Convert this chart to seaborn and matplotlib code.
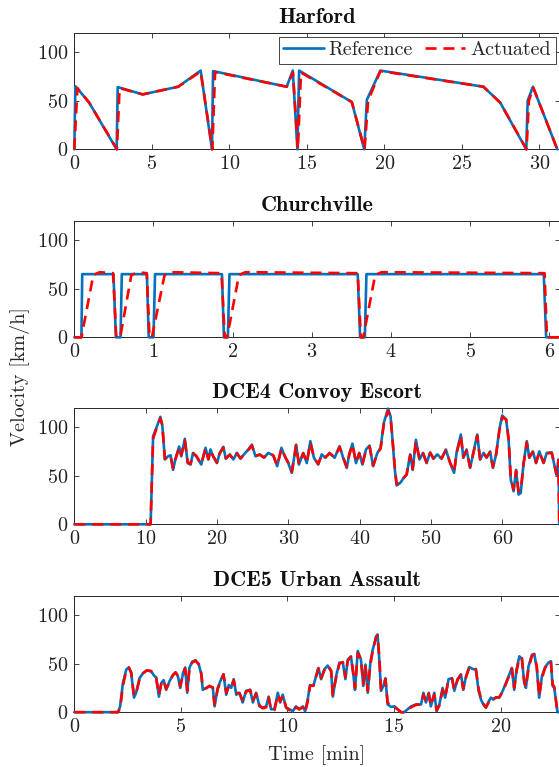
import matplotlib
matplotlib.use("Agg")
import matplotlib.pyplot as plt
from matplotlib.ticker import MultipleLocator
import seaborn as sns

# ---------------- drive-cycle velocity data (time in min, velocity in km/h) ----------------
titles = ["Harford", "Churchville", "DCE4 Convoy Escort", "DCE5 Urban Assault"]
series_labels = ["Reference", "Actuated"]

harford_t_ref = [0, 0.07, 0.96, 2.73, 2.8, 4.41, 6.7, 8.15, 8.88, 8.95, 13.7, 14.09,
                 14.39, 14.5, 17.9, 18.7, 18.87, 19.74, 26.39, 27.47, 29.15, 29.24,
                 29.58, 31.15]
harford_v_ref = [0, 65, 48, 0, 64, 56.5, 64.4, 81, 0, 80.5, 64.4, 81,
                 0, 81, 48.6, 0, 51, 81, 64.4, 48, 0, 50,
                 64.4, 0]
harford_t_act = [0, 0.2, 0.96, 2.75, 2.92, 4.41, 6.7, 8.15, 8.9, 9.08, 13.7, 14.1,
                 14.42, 14.62, 17.9, 18.72, 18.95, 19.74, 26.39, 27.47, 29.17, 29.32,
                 29.6, 31.15]
harford_v_act = [0, 63, 48, 0, 63, 56.5, 64.4, 80, 0, 79.5, 64.4, 79,
                 0, 79, 48.6, 0, 50, 80.5, 64.4, 48, 0, 50,
                 63.5, 0]

church_t_ref = [0, 0.09, 0.1, 0.494, 0.526, 0.584, 0.6, 0.917, 0.94, 1.0, 1.02,
                1.865, 1.89, 1.94, 1.96, 3.58, 3.61, 3.67, 3.69, 5.93, 5.96, 6.13]
church_v_ref = [0, 0, 65, 65, 0, 0, 65, 65, 0, 0, 65,
                65, 0, 0, 65, 65, 0, 0, 65, 65, 0, 0]
church_t_act = [0, 0.09, 0.24, 0.32, 0.49, 0.53, 0.58, 0.72, 0.8, 0.915, 0.95,
                0.98, 1.14, 1.22, 1.86, 1.9, 1.93, 2.08, 2.16, 3.58, 3.62,
                3.65, 3.8, 3.88, 5.94, 5.97, 6.13]
church_v_act = [0, 0, 64, 67, 66, 0, 0, 64, 67, 66, 0,
                0, 64, 67, 66, 0, 0, 64, 67, 66, 0,
                0, 64, 67, 66, 0, 0]

convoy_t = [0, 10.7, 11.05, 11.5, 12.07, 12.35, 12.7, 13.15, 13.5, 13.85,
            14.2, 14.7, 15.0, 15.5, 15.9, 16.3, 16.65, 17.1, 17.8, 18.4,
            18.8, 19.1, 19.45, 20.0, 20.4, 20.9, 21.25, 21.8, 22.3, 22.8,
            23.3, 23.8, 24.4, 24.9, 25.4, 26.0, 26.6, 27.2, 27.9, 28.45,
            29.05, 29.6, 30.0, 30.5, 31.1, 31.5, 32.1, 32.6, 33.1, 33.6,
            34.2, 34.7, 35.2, 35.8, 36.5, 37.2, 37.7, 38.2, 38.55, 39.0,
            39.5, 39.95, 40.4, 40.9, 41.4, 41.9, 42.5, 42.95, 43.4, 44.0,
            44.35, 44.65, 44.95, 45.2, 45.7, 46.2, 46.6, 47.1, 47.45, 47.9,
            48.4, 48.9, 49.4, 49.9, 50.35, 50.9, 51.5, 52.1, 52.7, 53.25,
            53.6, 54.2, 54.55, 55.0, 55.5, 55.95, 56.5, 56.9, 57.4, 57.8,
            58.3, 58.7, 59.15, 59.6, 60.0, 60.55, 60.9, 61.2, 61.6, 61.95,
            62.3, 62.6, 63.0, 63.45, 63.8, 64.3, 64.75, 65.2, 65.8, 66.25,
            66.95, 67.6, 67.9, 68.0]
convoy_v_ref = [0, 0, 90.7, 99, 110.6, 101, 66.7, 70, 71, 56,
                68, 80, 70, 88, 63, 61.5, 73.5, 70, 61.5, 78.7,
                66.7, 77, 70, 63, 73.5, 79.7, 67.4, 72, 66.7, 73.5,
                67.4, 72, 77, 82, 70, 72, 68.4, 73.5, 70.8, 59.8,
                78.7, 68.4, 63, 53, 82, 61.5, 73.5, 63, 85.6, 68.4,
                61.5, 72, 68.4, 73.5, 68.4, 80.4, 68.4, 58, 72, 83,
                63, 73.5, 61.5, 77, 81, 59.8, 73.5, 78.7, 104.5, 119,
                111, 84, 56, 40, 42.6, 47.8, 51, 72, 56, 87,
                66.7, 73.5, 63, 74, 67.4, 72, 67.4, 77, 63, 53,
                73.5, 92.4, 68.4, 77, 58, 73.5, 92.4, 66.7, 73.5, 68.4,
                75, 58, 72, 97.6, 112, 108, 87, 46, 34, 56,
                30.6, 32.3, 63, 85.6, 68.4, 75, 63, 75, 63, 73.5,
                74, 51, 66.7, 0]
convoy_v_act = [0, 0, 88, 98, 109, 102, 67.5, 70.5, 70, 58,
                67, 79, 71, 86, 64, 62, 73, 70.5, 62, 78,
                67, 76, 70.5, 63.5, 73, 79, 68, 71.5, 67, 73,
                68, 71.5, 76.5, 81, 70.5, 71.5, 69, 73, 71, 60.5,
                78, 69, 63.5, 54, 81, 62, 73, 63.5, 84, 69,
                62, 71.5, 69, 73, 69, 79.5, 69, 59, 71.5, 82,
                63.5, 73, 62, 76.5, 80, 60.5, 73, 78, 103, 117,
                110, 85, 58, 41.5, 43, 48, 51.5, 71, 57, 85,
                67, 73, 63.5, 73.5, 68, 71.5, 68, 76, 63.5, 54,
                73, 91, 69, 76, 59, 73, 91, 67, 73, 69,
                74, 59, 72, 96, 110, 108, 88, 48, 36, 55,
                34, 35, 62, 84, 69, 74.5, 63.5, 74.5, 63.5, 73,
                73.5, 52, 66, 0]

urban_t = [0, 2.05, 2.15, 2.28, 2.44, 2.56, 2.67, 2.8, 2.9, 3.06,
           3.22, 3.4, 3.6, 3.77, 3.84, 3.97, 4.08, 4.19, 4.31, 4.47,
           4.62, 4.75, 4.86, 4.97, 5.1, 5.2, 5.3, 5.4, 5.53, 5.69,
           5.84, 5.95, 6.03, 6.19, 6.34, 6.5, 6.58, 6.73, 6.89, 7.0,
           7.13, 7.25, 7.36, 7.48, 7.6, 7.75, 7.9, 8.06, 8.25, 8.38,
           8.53, 8.69, 8.84, 9.0, 9.12, 9.23, 9.39, 9.55, 9.66, 9.78,
           9.94, 10.1, 10.25, 10.4, 10.56, 10.72, 10.83, 10.95, 11.06, 11.22,
           11.34, 11.45, 11.58, 11.73, 11.89, 12.05, 12.13, 12.28, 12.44, 12.6,
           12.72, 12.83, 12.98, 13.1, 13.17, 13.3, 13.45, 13.56, 13.66, 13.77,
           13.89, 14.0, 14.16, 14.23, 14.31, 14.39, 14.5, 14.6, 14.7, 14.86,
           15.02, 15.17, 15.33, 15.48, 15.64, 15.8, 16.03, 16.27, 16.38, 16.5,
           16.63, 16.73, 16.89, 17.0, 17.13, 17.28, 17.4, 17.56, 17.72, 17.83,
           17.98, 18.14, 18.25, 18.38, 18.53, 18.69, 18.84, 18.97, 19.08, 19.19,
           19.31, 19.44, 19.55, 19.66, 19.78, 19.94, 20.1, 20.25, 20.41, 20.53,
           20.64, 20.75, 20.88, 21.0, 21.11, 21.19, 21.31, 21.47, 21.58, 21.7,
           21.81, 21.94, 22.09, 22.25, 22.36, 22.44, 22.52, 22.67, 22.77]
urban_v_ref = [0, 0, 6, 30, 44, 46, 40, 15, 20, 35,
               40, 43, 42, 37, 36, 16, 30, 33, 23, 32,
               38, 41, 37, 25, 40, 46, 20, 45.5, 52, 53.5,
               49, 40, 23, 25, 27, 25, 6, 25, 34, 39,
               18, 28, 25, 34, 18, 20, 10, 22, 23, 10,
               20, 6, 4.5, 6, 16, 3, 3, 20, 10, 18,
               4.5, 3, 1, 6, 3, 6, 1, 13, 28, 27,
               37, 45.5, 34, 44, 48, 42, 16, 37, 51, 51,
               34, 54, 57.5, 37, 23, 63, 54, 27, 49, 20,
               51, 64, 78, 80, 54, 22, 27, 35, 8, 5.5,
               6, 3, 0, 0, 3, 6, 8, 8, 20, 10,
               20, 6, 20, 1, 8, 25, 15, 34, 35, 22,
               34, 39, 23, 37, 46.5, 44.5, 44, 22, 13, 8,
               4.5, 11, 15, 13, 15.4, 15, 22, 30, 39, 45.5,
               23, 44, 57.5, 55, 30, 25, 47, 59, 60, 45.5,
               15, 37, 46.5, 51, 52.5, 27, 25, 0, 0]
urban_v_act = [0, 0, 4, 27, 43, 46, 41, 17, 19, 34,
               40, 43, 42.5, 37.5, 35, 18, 29, 33, 24, 31,
               38, 41, 37.5, 27, 39, 45, 22, 44, 51, 53,
               49.5, 41, 25, 24.5, 27, 25.5, 8, 24, 33, 39,
               20, 27, 25.5, 33, 20, 19.5, 12, 21, 23, 12,
               19, 7, 4, 5, 15, 2, 2, 18, 11, 17,
               5, 2, 0, 5, 3, 5, 0, 11, 27, 27.5,
               36, 45, 35, 43, 48, 43, 18, 35, 50, 51.5,
               36, 53, 57, 39, 25, 61, 54.5, 29, 47, 22,
               49, 63, 77, 79, 57, 24, 26, 34, 10, 6,
               5.5, 3, 0, 0, 2, 5, 7.5, 8, 18, 11,
               19, 7, 18, 2, 7, 23, 16, 33, 35, 23,
               33, 38.5, 24, 36, 46, 45, 44.5, 24, 14, 9,
               5, 10, 14.5, 13.5, 15, 15.5, 21, 29, 38, 45,
               25, 42, 56, 55.5, 32, 26, 45, 58, 59.5, 47,
               17, 35, 45.5, 50.5, 52.5, 29, 26, 0, 0]

panels = [
    (harford_t_ref, harford_v_ref, harford_t_act, harford_v_act),
    (church_t_ref, church_v_ref, church_t_act, church_v_act),
    (convoy_t, convoy_v_ref, convoy_t, convoy_v_act),
    (urban_t, urban_v_ref, urban_t, urban_v_act),
]
x_limits = [31.3, 6.13, 68.05, 22.77]
x_steps = [5, 1, 10, 5]

# ---------------- styling ----------------
sns.set_theme(style="white")
ink = "#262626"
fs = 14.5
title_fs = 16
plt.rcParams.update({
    "font.family": ["cmr10"],
    "mathtext.fontset": "cm",
    "axes.formatter.use_mathtext": True,
    "axes.unicode_minus": False,
    "font.size": fs,
    "axes.edgecolor": ink,
    "axes.linewidth": 0.7,
    "xtick.direction": "in",
    "ytick.direction": "in",
    "xtick.top": True,
    "ytick.right": True,
    "xtick.bottom": True,
    "ytick.left": True,
    "xtick.major.size": 3.6,
    "ytick.major.size": 3.6,
    "xtick.major.width": 0.6,
    "ytick.major.width": 0.6,
    "xtick.color": ink,
    "ytick.color": ink,
    "xtick.labelcolor": "#222222",
    "ytick.labelcolor": "#222222",
    "xtick.labelsize": fs,
    "ytick.labelsize": fs,
    "xtick.major.pad": 4.0,
    "ytick.major.pad": 4.5,
})

blue = "#0072BD"
red = "#FF0000"

W, H = 559, 767
fig = plt.figure(figsize=(W / 100, H / 100), dpi=100)
left = 74.3 / W
width = (559.6 - 74.3) / W
height = 116.6 / H
tops = [32.7, 220.7, 407.7, 595.6]

axes = []
for i, (title, (tr, vr, ta, va), xmax, step) in enumerate(
        zip(titles, panels, x_limits, x_steps)):
    ax = fig.add_axes([left, 1 - (tops[i] + 116.6) / H, width, height])
    first = i == 0
    sns.lineplot(x=tr, y=vr, ax=ax, color=blue, linewidth=1.9, sort=False,
                 estimator=None, label=series_labels[0] if first else None,
                 clip_on=False, zorder=3)
    sns.lineplot(x=ta, y=va, ax=ax, color=red, linewidth=1.9, sort=False,
                 estimator=None, label=series_labels[1] if first else None,
                 linestyle=(0, (4.2, 2.6)), clip_on=False, zorder=4)
    ax.set_xlim(0, xmax)
    ax.set_ylim(0, 120)
    ax.xaxis.set_major_locator(MultipleLocator(step))
    ax.set_yticks([0, 50, 100])
    ax.set_xlabel("")
    ax.set_ylabel("")
    ax.set_title(title, fontfamily="cmb10", fontsize=title_fs, pad=6.8,
                 color="#111111")
    for s in ax.spines.values():
        s.set_visible(True)
        s.set_color(ink)
        s.set_linewidth(0.7)
    ax.set_facecolor("white")
    if first:
        leg = ax.legend(loc="upper right", ncol=2, frameon=True, fancybox=False,
                        edgecolor=ink, framealpha=1, fontsize=fs,
                        handlelength=2.0, handletextpad=0.25, columnspacing=0.6,
                        borderpad=0.22, borderaxespad=0.2)
        leg.get_frame().set_linewidth(0.6)
    else:
        lg = ax.get_legend()
        if lg is not None:
            lg.remove()
    axes.append(ax)

axes[-1].set_xlabel("Time [min]", fontsize=fs, labelpad=6.5)
fig.text(20 / W, 1 - 377 / H, "Velocity [km/h]", rotation=90,
         ha="center", va="center", fontsize=fs)

fig.savefig("out.png", dpi=100)
